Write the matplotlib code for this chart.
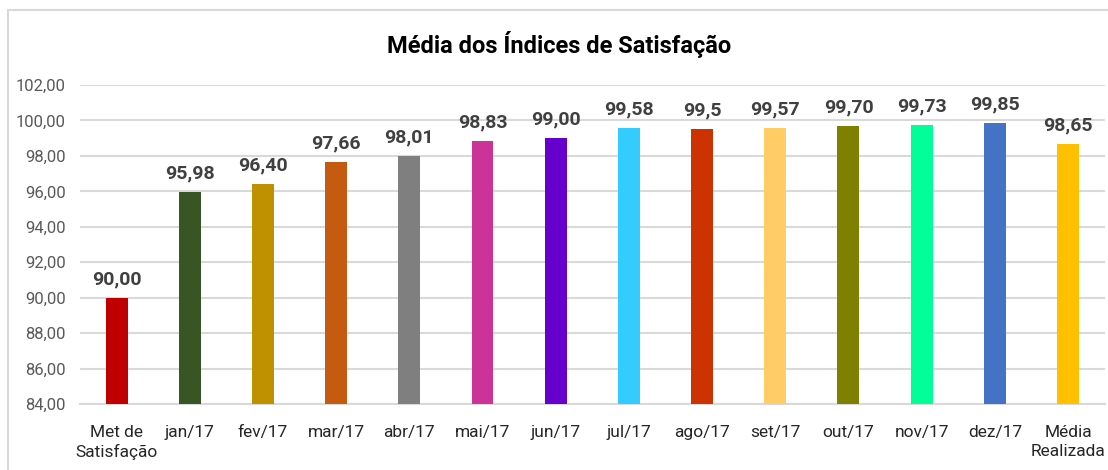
import matplotlib.pyplot as plt
from matplotlib.patches import Rectangle

categories = ["Met de\nSatisfação", "jan/17", "fev/17", "mar/17", "abr/17", "mai/17",
              "jun/17", "jul/17", "ago/17", "set/17", "out/17", "nov/17", "dez/17",
              "Média\nRealizada"]
values = [90.00, 95.98, 96.40, 97.66, 98.01, 98.83, 99.00, 99.58, 99.5, 99.57,
          99.70, 99.73, 99.85, 98.65]
value_labels = ["90,00", "95,98", "96,40", "97,66", "98,01", "98,83", "99,00", "99,58",
                "99,5", "99,57", "99,70", "99,73", "99,85", "98,65"]
colors = ["#C00000", "#375623", "#BF9000", "#C55A11", "#7F7F7F", "#CC3399", "#6600CC",
          "#33CCFF", "#CC3300", "#FFCC66", "#808000", "#00FF99", "#4472C4", "#FFC000"]
yticks = [84, 86, 88, 90, 92, 94, 96, 98, 100, 102]

plt.rcParams['font.family'] = ['Roboto', 'DejaVu Sans']

fig = plt.figure(figsize=(11.08, 4.70), dpi=100)
ax = fig.add_axes([80 / 1108, 1 - 404 / 470, (1104.6 - 80) / 1108, (404 - 85) / 470])

# outer chart border (bottom/right run off the image)
fig.patches.append(Rectangle((8 / 1108, -0.05), 1.1, 1.05 - 10 / 470,
                             transform=fig.transFigure, fill=False,
                             ec="#d9d9d9", lw=1.5, zorder=0))

x = range(len(categories))
ax.bar(x, [v - 84 for v in values], bottom=84, width=0.3, color=colors, zorder=3)

for i, (v, lab) in enumerate(zip(values, value_labels)):
    ax.annotate(lab, (i, v), xytext=(0, 7), textcoords="offset points",
                ha="center", va="bottom", fontsize=14, fontweight="bold",
                color="#404040")

ax.set_xlim(-0.5, len(categories) - 0.5)
ax.set_ylim(84, 102)
ax.set_yticks(yticks)
ax.set_yticklabels([f"{t:.2f}".replace(".", ",") for t in yticks])
ax.set_xticks(list(x))
ax.set_xticklabels(categories, linespacing=1.35)
ax.tick_params(axis="y", length=0, labelsize=12, labelcolor="#595959", pad=10)
ax.tick_params(axis="x", length=0, labelsize=12.5, labelcolor="#262626", pad=15)

ax.grid(axis="y", color="#d9d9d9", lw=1.5, zorder=0)
for s in ["top", "right", "left"]:
    ax.spines[s].set_visible(False)
ax.spines["bottom"].set_color("#d9d9d9")
ax.spines["bottom"].set_linewidth(1.5)

fig.text(0.505, 1 - 45 / 470, "Média dos Índices de Satisfação", ha="center",
         va="center", fontsize=17, fontweight="bold", color="black")

fig.savefig("out.png", dpi=100)
